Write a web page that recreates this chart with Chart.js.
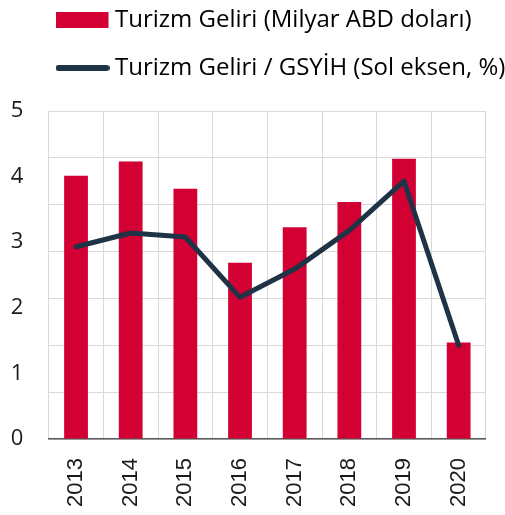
<!DOCTYPE html>
<html>
<head>
<meta charset="utf-8">
<script src="https://cdn.jsdelivr.net/npm/chart.js@4/dist/chart.umd.min.js"></script>
<style>
html,body{margin:0;padding:0;background:#fff;}
#wrap{width:505px;height:515px;position:relative;}
</style>
</head>
<body>
<div id="wrap"><canvas id="c" width="505" height="515"></canvas></div>
<script>
const years = ['2013','2014','2015','2016','2017','2018','2019','2020'];
const revenue = [28.1, 29.6, 26.7, 18.8, 22.6, 25.3, 29.9, 10.3];
const revenueToGdp = [2.93, 3.14, 3.08, 2.16, 2.59, 3.18, 3.93, 1.43];
const barLabel = 'Turizm Geliri (Milyar ABD doları)';
const lineLabel = 'Turizm Geliri / GSYİH (Sol eksen, %)';
const leftTicks = [0, 1, 2, 3, 4, 5];

const RED = '#d20033';
const NAVY = '#1f3347';
const FONT = "'Open Sans', sans-serif";
const XFONT = "'Liberation Sans', Arial, sans-serif";

function makeSwatch(kind) {
  const cv = document.createElement('canvas');
  cv.width = 54; cv.height = 16;
  const g = cv.getContext('2d');
  if (kind === 'rect') {
    g.fillStyle = RED;
    g.fillRect(0, 0, 53, 16);
  } else {
    g.strokeStyle = NAVY;
    g.lineWidth = 6;
    g.lineCap = 'round';
    g.beginPath();
    g.moveTo(3, 8);
    g.lineTo(51, 8);
    g.stroke();
  }
  return cv;
}
const barSwatch = makeSwatch('rect');
const lineSwatch = makeSwatch('line');

const legendShift = {
  id: 'legendShift',
  afterLayout(chart) {
    const lg = chart.legend;
    if (!lg) return;
    const dx = 38 - lg.left;
    const dy = -16 - lg.top;
    lg.left += dx; lg.right += dx;
    lg.top += dy; lg.bottom += dy;
  }
};

new Chart(document.getElementById('c'), {
  data: {
    labels: years,
    datasets: [
      {
        type: 'line',
        label: lineLabel,
        data: revenueToGdp,
        yAxisID: 'y',
        borderColor: NAVY,
        backgroundColor: NAVY,
        borderWidth: 5,
        borderCapStyle: 'round',
        borderJoinStyle: 'round',
        pointRadius: 0,
        tension: 0,
        order: 0
      },
      {
        type: 'bar',
        label: barLabel,
        data: revenue,
        yAxisID: 'y1',
        backgroundColor: RED,
        borderWidth: 0,
        categoryPercentage: 1,
        barPercentage: 0.435,
        order: 1
      }
    ]
  },
  options: {
    responsive: false,
    animation: false,
    devicePixelRatio: 1,
    layout: { padding: { top: 5, right: 15, bottom: 0, left: 10 } },
    plugins: {
      tooltip: { enabled: false },
      legend: {
        position: 'top',
        align: 'start',
        labels: {
          font: { family: FONT, size: 24 },
          color: '#1a1a1a',
          padding: 24,
          usePointStyle: true,
          boxHeight: 16,
          pointStyleWidth: 41,
          generateLabels() {
            return [
              { text: barLabel, fillStyle: RED, strokeStyle: RED, lineWidth: 0, pointStyle: barSwatch, datasetIndex: 1, hidden: false },
              { text: lineLabel, fillStyle: NAVY, strokeStyle: NAVY, lineWidth: 0, pointStyle: lineSwatch, datasetIndex: 0, hidden: false }
            ];
          }
        }
      }
    },
    scales: {
      x: {
        offset: true,
        afterFit(axis) { axis.height = 76; },
        grid: { display: true, offset: true, color: '#d9d9d9', lineWidth: 1, drawTicks: false },
        border: { display: true, color: '#595959', width: 1.5 },
        ticks: {
          font: { family: XFONT, size: 22 },
          color: '#1a1a1a',
          minRotation: 90,
          maxRotation: 90,
          padding: 19,
          autoSkip: false
        }
      },
      y: {
        position: 'left',
        min: 0,
        max: 5,
        afterFit(axis) { axis.width = 38.7; },
        afterBuildTicks(axis) { axis.ticks = leftTicks.map(v => ({ value: v })); },
        grid: { display: false, drawTicks: false },
        border: { display: false },
        ticks: {
          font: { family: FONT, size: 22 },
          color: '#1a1a1a',
          padding: 25.4
        }
      },
      y1: {
        position: 'right',
        min: 0,
        max: 35,
        afterFit(axis) { axis.width = 0; },
        ticks: { display: false, stepSize: 5 },
        grid: { display: true, color: '#d9d9d9', lineWidth: 1, drawTicks: false },
        border: { display: false }
      }
    }
  },
  plugins: [legendShift]
});
</script>
</body>
</html>
